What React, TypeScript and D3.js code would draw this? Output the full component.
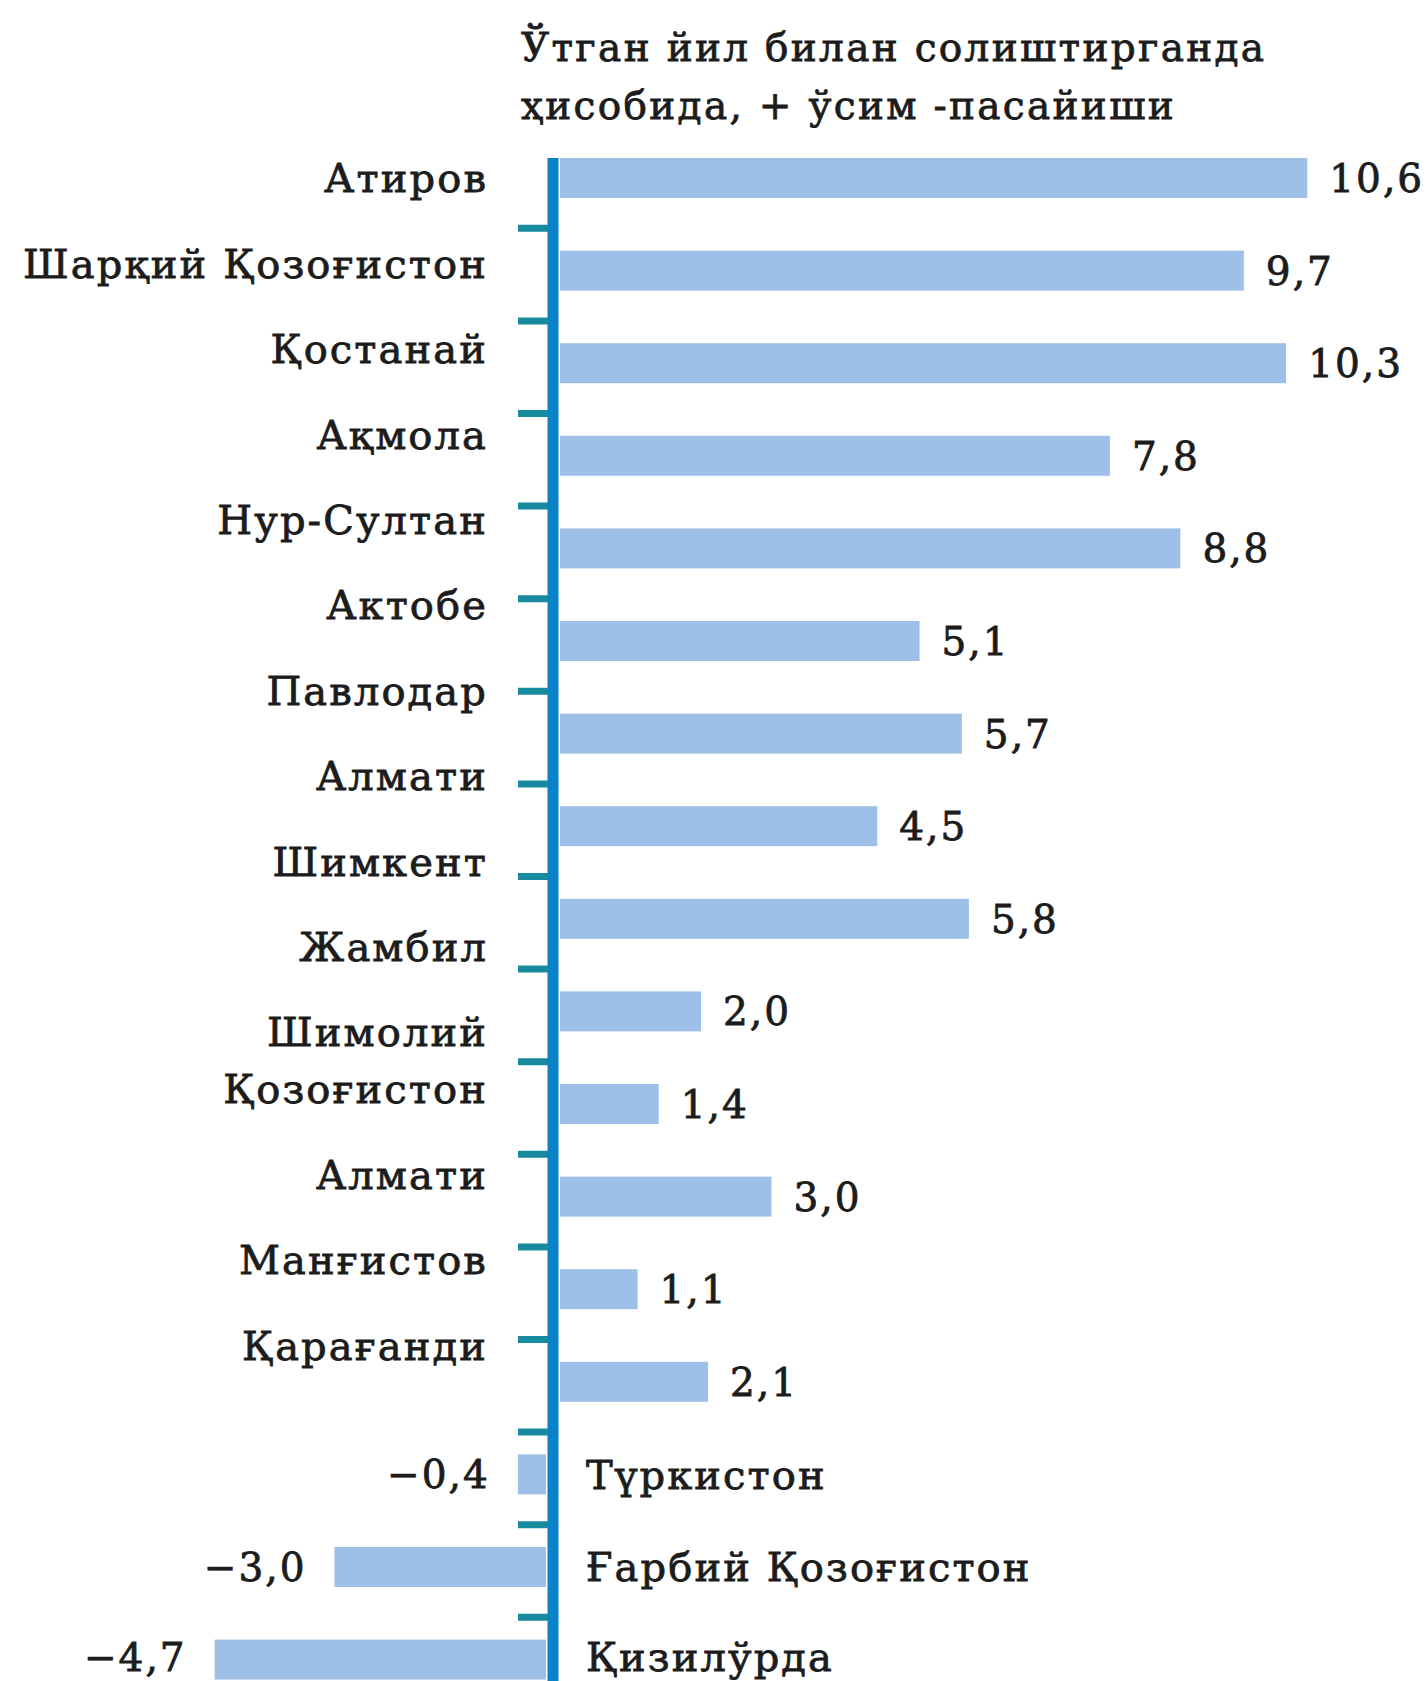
import React from "react";
import * as d3 from "d3";

const categories: string[] = [
  "Атиров",
  "Шарқий Қозоғистон",
  "Қостанай",
  "Ақмола",
  "Нур-Султан",
  "Актобе",
  "Павлодар",
  "Алмати",
  "Шимкент",
  "Жамбил",
  "Шимолий\nҚозоғистон",
  "Алмати",
  "Манғистов",
  "Қарағанди",
  "Түркистон",
  "Ғарбий Қозоғистон",
  "Қизилўрда",
];

const values: number[] = [
  10.6, 9.7, 10.3, 7.8, 8.8, 5.1, 5.7, 4.5, 5.8, 2.0, 1.4, 3.0, 1.1, 2.1, -0.4, -3.0, -4.7,
];

const titleLines: string[] = [
  "Ўтган йил билан солиштирганда",
  "ҳисобида, + ўсим -пасайиши",
];

const W = 1426;
const H = 1681;
const FONT = "'DejaVu Serif', serif";
const BAR_COLOR = "#9ec0e8";
const AXIS_COLOR = "#0a82c8";
const TICK_COLOR = "#178a9e";
const TEXT_COLOR = "#1c1c1c";

const locale = d3.formatLocale({
  decimal: ",",
  thousands: " ",
  grouping: [3],
  currency: ["", ""],
  minus: "−",
});
const fmt = locale.format(".1f");

export default function App() {
  const idx = categories.map((_, i) => i);
  const step = 92.6;
  const rowTop = 178 - step / 2;
  const y = d3
    .scaleBand<number>()
    .domain(idx)
    .range([rowTop, rowTop + step * categories.length])
    .padding(0);
  const barH = 40;
  const x = d3.scaleLinear().domain([0, 10]).range([553, 1258]);
  const axisW = 11;
  const half = 7;
  const center = (i: number) => (y(i) as number) + y.bandwidth() / 2;

  // left-hand category labels drift upward relative to the bars in the original
  const labelStep = 85.4;
  const lineGap = 57;
  const labelY = (i: number) => 178 + labelStep * i + (i > 10 ? lineGap : 0);

  const axisTop = center(0) - barH / 2;
  const labelFont = 40;
  const labelLS = 2.1;
  const valueFont = 39;

  // baseline for a vertically centred text, kept inside the picture's bottom edge
  const baseline = (cy: number, fs: number) => Math.min(cy + 0.36 * fs, H - 0.25 * fs);

  return (
    <svg
      width={W}
      height={H}
      viewBox={`0 0 ${W} ${H}`}
      style={{ position: "absolute", left: 0, top: 0, background: "#fff" }}
    >
      <g fontFamily={FONT} fill={TEXT_COLOR} stroke={TEXT_COLOR} strokeWidth={0.8}>
        {titleLines.map((t, k) => (
          <text key={k} x={521} y={61 + k * 58} fontSize={39} letterSpacing={2.3}>
            {t}
          </text>
        ))}
      </g>

      {/* bars */}
      {values.map((v, i) => {
        const x0 = v >= 0 ? x(0) + half : x(v) - half;
        const x1 = v >= 0 ? x(v) + half : x(0) - half;
        return (
          <rect
            key={i}
            x={x0}
            y={center(i) - barH / 2}
            width={x1 - x0}
            height={barH}
            fill={BAR_COLOR}
          />
        );
      })}

      {/* ticks */}
      {idx.slice(1).map((i) => (
        <line
          key={i}
          x1={518}
          x2={x(0)}
          y1={(y(i) as number) + 4}
          y2={(y(i) as number) + 4}
          stroke={TICK_COLOR}
          strokeWidth={7}
        />
      ))}

      {/* axis */}
      <line x1={x(0)} x2={x(0)} y1={axisTop} y2={H} stroke={AXIS_COLOR} strokeWidth={axisW} />

      <g fontFamily={FONT} fill={TEXT_COLOR} stroke={TEXT_COLOR} strokeWidth={0.8}>
        {/* category labels */}
        {categories.map((c, i) => {
          const v = values[i];
          if (v >= 0) {
            const lines = c.split("\n");
            return (
              <text key={i} fontSize={labelFont} letterSpacing={labelLS} textAnchor="end">
                {lines.map((l, k) => (
                  <tspan key={k} x={488} y={baseline(labelY(i) + k * lineGap, labelFont)}>
                    {l}
                  </tspan>
                ))}
              </text>
            );
          }
          return (
            <text
              key={i}
              x={x(0) + 33}
              y={baseline(center(i), labelFont)}
              fontSize={labelFont}
              letterSpacing={labelLS}
            >
              {c}
            </text>
          );
        })}

        {/* value labels */}
        {values.map((v, i) =>
          v >= 0 ? (
            <text
              key={i}
              x={x(v) + half + 22}
              y={baseline(center(i), valueFont)}
              fontSize={valueFont}
              letterSpacing={2}
            >
              {fmt(v)}
            </text>
          ) : (
            <text
              key={i}
              x={x(v) - half - 28}
              y={baseline(center(i), valueFont)}
              fontSize={valueFont}
              letterSpacing={2}
              textAnchor="end"
            >
              {fmt(v)}
            </text>
          )
        )}
      </g>
    </svg>
  );
}
